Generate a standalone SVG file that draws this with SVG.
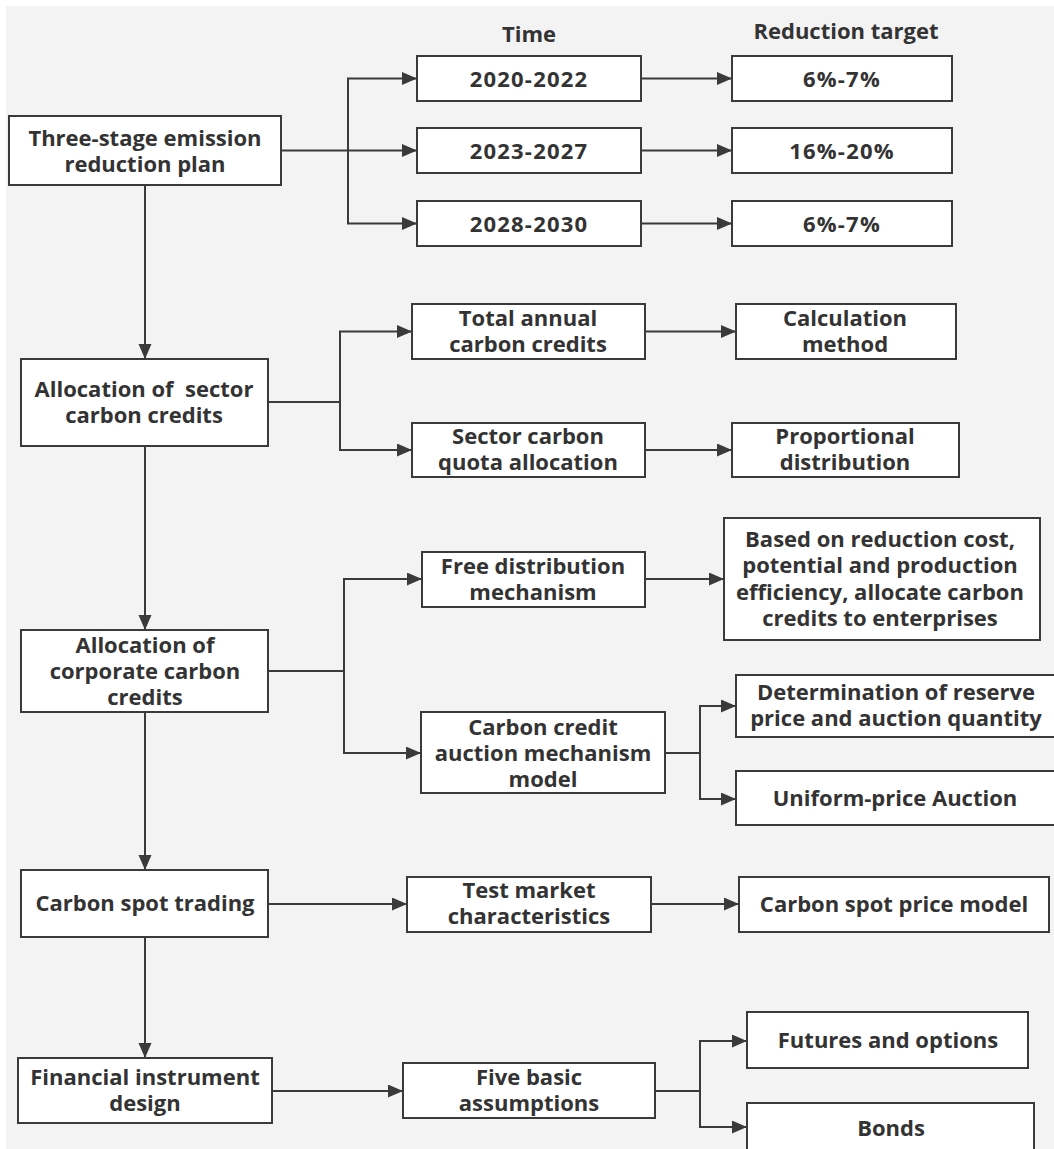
<svg xmlns="http://www.w3.org/2000/svg" width="1054" height="1149" viewBox="0 0 1054 1149">
<defs>
<style>
.bx{fill:#fff;stroke:#3a3a3a;stroke-width:2}
.t{font-family:"Open Sans","Noto Sans","DejaVu Sans",sans-serif;font-weight:700;font-size:22px;fill:#333;text-anchor:middle;white-space:pre}
.n{letter-spacing:1.2px}
.c{fill:none;stroke:#3a3a3a;stroke-width:2}
</style>
<marker id="ar" markerUnits="userSpaceOnUse" markerWidth="16" markerHeight="14" refX="15" refY="6.5" orient="auto">
<path d="M0,0 L15,6.5 L0,13 z" fill="#3a3a3a"/>
</marker>
</defs>
<rect x="0" y="0" width="1054" height="1149" fill="#fff"/>
<rect x="6" y="6" width="1048" height="1143" fill="#f3f3f3"/>

<g id="connectors">
<path class="c" d="M281,150.5 H417" marker-end="url(#ar)"/>
<path class="c" d="M348,150.5 V78.5 H417" marker-end="url(#ar)"/>
<path class="c" d="M348,150.5 V223.5 H417" marker-end="url(#ar)"/>
<path class="c" d="M641,78.5 H732" marker-end="url(#ar)"/>
<path class="c" d="M641,150.5 H732" marker-end="url(#ar)"/>
<path class="c" d="M641,223.5 H732" marker-end="url(#ar)"/>
<path class="c" d="M145,185 V359" marker-end="url(#ar)"/>
<path class="c" d="M268,402 H340 V331.5 H412" marker-end="url(#ar)"/>
<path class="c" d="M340,402 V450 H412" marker-end="url(#ar)"/>
<path class="c" d="M645,331.5 H736" marker-end="url(#ar)"/>
<path class="c" d="M645,450 H732" marker-end="url(#ar)"/>
<path class="c" d="M145,446 V630" marker-end="url(#ar)"/>
<path class="c" d="M268,671 H344 V579 H422" marker-end="url(#ar)"/>
<path class="c" d="M344,671 V753 H421" marker-end="url(#ar)"/>
<path class="c" d="M645,579 H724" marker-end="url(#ar)"/>
<path class="c" d="M665,753 H700 V706 H736" marker-end="url(#ar)"/>
<path class="c" d="M700,753 V799 H736" marker-end="url(#ar)"/>
<path class="c" d="M145,712 V870" marker-end="url(#ar)"/>
<path class="c" d="M268,904 H407" marker-end="url(#ar)"/>
<path class="c" d="M651,904 H739" marker-end="url(#ar)"/>
<path class="c" d="M145,937 V1058" marker-end="url(#ar)"/>
<path class="c" d="M272,1091 H403" marker-end="url(#ar)"/>
<path class="c" d="M655,1091 H700 V1041 H747" marker-end="url(#ar)"/>
<path class="c" d="M700,1091 V1127 H747" marker-end="url(#ar)"/>
</g>

<g id="header-time"><text class="t" x="529" y="42">Time</text></g>
<g id="header-target"><text class="t" x="846" y="39">Reduction target</text></g>

<g id="n-three-stage">
<rect class="bx" x="9" y="116" width="272" height="69"/>
<text class="t" x="145" y="146">Three-stage emission</text>
<text class="t" x="145" y="172">reduction plan</text>
</g>
<g id="n-2020">
<rect class="bx" x="417" y="56" width="224" height="45"/>
<text class="t n" x="529" y="87">2020-2022</text>
</g>
<g id="n-2023">
<rect class="bx" x="417" y="128" width="224" height="45"/>
<text class="t n" x="529" y="159">2023-2027</text>
</g>
<g id="n-2028">
<rect class="bx" x="417" y="201" width="224" height="45"/>
<text class="t n" x="529" y="232">2028-2030</text>
</g>
<g id="n-t1">
<rect class="bx" x="732" y="56" width="220" height="45"/>
<text class="t n" x="842" y="87">6%-7%</text>
</g>
<g id="n-t2">
<rect class="bx" x="732" y="128" width="220" height="45"/>
<text class="t n" x="842" y="159">16%-20%</text>
</g>
<g id="n-t3">
<rect class="bx" x="732" y="201" width="220" height="45"/>
<text class="t n" x="842" y="232">6%-7%</text>
</g>

<g id="n-sector">
<rect class="bx" x="21" y="359" width="247" height="87"/>
<text class="t" x="144" y="397">Allocation of  sector</text>
<text class="t" x="144" y="423">carbon credits</text>
</g>
<g id="n-total">
<rect class="bx" x="412" y="304" width="233" height="55"/>
<text class="t" x="528" y="326">Total annual</text>
<text class="t" x="528" y="352">carbon credits</text>
</g>
<g id="n-quota">
<rect class="bx" x="412" y="423" width="233" height="54"/>
<text class="t" x="528" y="444">Sector carbon</text>
<text class="t" x="528" y="470">quota allocation</text>
</g>
<g id="n-calc">
<rect class="bx" x="736" y="304" width="220" height="55"/>
<text class="t" x="845" y="326">Calculation</text>
<text class="t" x="845" y="352">method</text>
</g>
<g id="n-prop">
<rect class="bx" x="732" y="423" width="227" height="54"/>
<text class="t" x="845" y="444">Proportional</text>
<text class="t" x="845" y="470">distribution</text>
</g>

<g id="n-corporate">
<rect class="bx" x="21" y="630" width="247" height="82"/>
<text class="t" x="145" y="653">Allocation of</text>
<text class="t" x="145" y="679">corporate carbon</text>
<text class="t" x="145" y="705">credits</text>
</g>
<g id="n-free">
<rect class="bx" x="422" y="552" width="223" height="55"/>
<text class="t" x="533" y="574">Free distribution</text>
<text class="t" x="533" y="600">mechanism</text>
</g>
<g id="n-based">
<rect class="bx" x="724" y="518" width="316" height="122"/>
<text class="t" x="880" y="547">Based on reduction cost,</text>
<text class="t" x="880" y="573">potential and production</text>
<text class="t" x="880" y="600">efficiency, allocate carbon</text>
<text class="t" x="880" y="626">credits to enterprises</text>
</g>
<g id="n-auction">
<rect class="bx" x="421" y="712" width="244" height="81"/>
<text class="t" x="543" y="735">Carbon credit</text>
<text class="t" x="543" y="761">auction mechanism</text>
<text class="t" x="543" y="787">model</text>
</g>
<g id="n-reserve">
<rect class="bx" x="736" y="675" width="330" height="62"/>
<text class="t" x="896" y="700">Determination of reserve</text>
<text class="t" x="896" y="726">price and auction quantity</text>
</g>
<g id="n-uniform">
<rect class="bx" x="736" y="771" width="330" height="54"/>
<text class="t" x="895" y="806">Uniform-price Auction</text>
</g>

<g id="n-spot">
<rect class="bx" x="21" y="870" width="247" height="67"/>
<text class="t" x="145" y="911">Carbon spot trading</text>
</g>
<g id="n-test">
<rect class="bx" x="407" y="877" width="244" height="55"/>
<text class="t" x="529" y="898">Test market</text>
<text class="t" x="529" y="924">characteristics</text>
</g>
<g id="n-price">
<rect class="bx" x="739" y="877" width="310" height="55"/>
<text class="t" x="894" y="912">Carbon spot price model</text>
</g>

<g id="n-financial">
<rect class="bx" x="18" y="1058" width="254" height="65"/>
<text class="t" x="145" y="1085">Financial instrument</text>
<text class="t" x="145" y="1111">design</text>
</g>
<g id="n-five">
<rect class="bx" x="403" y="1063" width="252" height="55"/>
<text class="t" x="529" y="1085">Five basic</text>
<text class="t" x="529" y="1111">assumptions</text>
</g>
<g id="n-futures">
<rect class="bx" x="747" y="1012" width="281" height="56"/>
<text class="t" x="888" y="1048">Futures and options</text>
</g>
<g id="n-bonds">
<rect class="bx" x="747" y="1103" width="287" height="56"/>
<text class="t" x="891" y="1136">Bonds</text>
</g>
</svg>
